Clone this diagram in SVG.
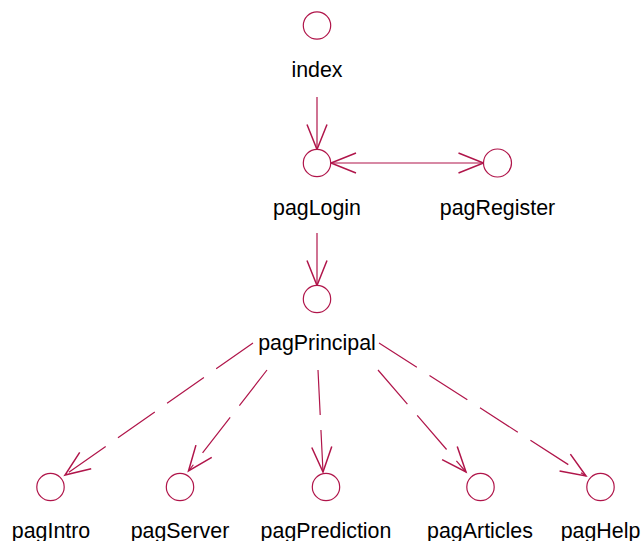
<svg xmlns="http://www.w3.org/2000/svg" width="642" height="541" viewBox="0 0 642 541">
<style>
.node circle{fill:#fff;stroke:#B0154A;stroke-width:1.2}
.node text{font-family:"Liberation Sans",Arial,sans-serif;font-size:21.4px;fill:#000;text-anchor:middle}
.c line{stroke:#B0154A;stroke-width:1.2;fill:none}
.c .d{stroke-dasharray:45 15}
</style>
<defs>
<marker id="ah" markerUnits="userSpaceOnUse" markerWidth="30" markerHeight="30" viewBox="-22 -10 24 20" refX="0" refY="0" orient="auto-start-reverse" overflow="visible">
<path d="M-20,-8 L0,0 L-20,8" fill="none" stroke="#B0154A" stroke-width="1.2" stroke-dasharray="none"/>
</marker>
</defs>
<rect width="642" height="541" fill="#fff"/>
<g class="c" id="connectors">
<line x1="317" y1="97" x2="317" y2="149.5" marker-end="url(#ah)"/>
<line x1="331" y1="163" x2="483.5" y2="163" marker-start="url(#ah)" marker-end="url(#ah)"/>
<line x1="317" y1="233" x2="317" y2="285.5" marker-end="url(#ah)"/>
<line class="d" x1="253" y1="343" x2="65" y2="475" marker-end="url(#ah)"/>
<line class="d" x1="267" y1="370" x2="188.5" y2="471" marker-end="url(#ah)"/>
<line class="d" x1="318" y1="370" x2="323" y2="472" marker-end="url(#ah)"/>
<line class="d" x1="378" y1="370" x2="466" y2="472" marker-end="url(#ah)"/>
<line class="d" x1="379" y1="343" x2="586" y2="476" marker-end="url(#ah)"/>
</g>
<g class="node" id="index"><circle cx="317" cy="25.5" r="13.7"/><text x="317" y="77">index</text></g>
<g class="node" id="pagLogin"><circle cx="317" cy="163" r="13.7"/><text x="317" y="215">pagLogin</text></g>
<g class="node" id="pagRegister"><circle cx="497.5" cy="163" r="14"/><text x="497.5" y="215">pagRegister</text></g>
<g class="node" id="pagPrincipal"><circle cx="317" cy="299" r="13.7"/><text x="317" y="350">pagPrincipal</text></g>
<g class="node" id="pagIntro"><circle cx="50.5" cy="487" r="13.7"/><text x="51" y="538">pagIntro</text></g>
<g class="node" id="pagServer"><circle cx="180" cy="487" r="13.7"/><text x="180" y="538">pagServer</text></g>
<g class="node" id="pagPrediction"><circle cx="326" cy="487" r="13.7"/><text x="326" y="538">pagPrediction</text></g>
<g class="node" id="pagArticles"><circle cx="480.5" cy="487" r="13.7"/><text x="480" y="538">pagArticles</text></g>
<g class="node" id="pagHelp"><circle cx="600.5" cy="487" r="13.7"/><text x="600.5" y="538">pagHelp</text></g>
</svg>
